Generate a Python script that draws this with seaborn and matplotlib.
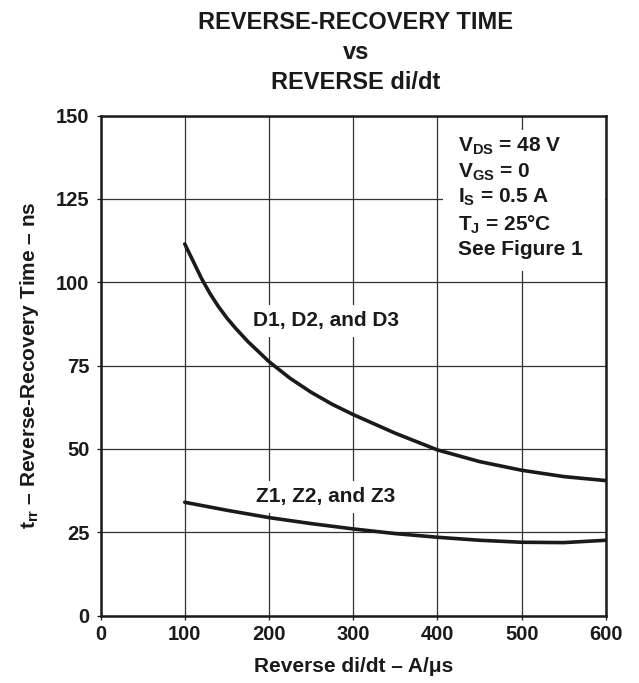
import matplotlib
matplotlib.use("Agg")
import matplotlib.pyplot as plt
from matplotlib.patches import Rectangle
import seaborn as sns
import pandas as pd

# ---- data ----
di_dt_D = [100, 110, 120, 130, 140, 150, 160, 175, 200, 225, 250, 275, 300,
           350, 400, 450, 500, 550, 600]
trr_D = [111.5, 106.3, 101.1, 96.6, 92.7, 89.3, 86.3, 82.2, 76.2, 71.2, 67.0, 63.4, 60.3,
         54.7, 49.7, 46.2, 43.6, 41.7, 40.5]
di_dt_Z = [100, 150, 200, 250, 300, 350, 400, 450, 500, 550, 600]
trr_Z = [34.0, 31.6, 29.4, 27.6, 26.0, 24.6, 23.5, 22.6, 22.0, 21.9, 22.6]
x_ticks = [0, 100, 200, 300, 400, 500, 600]
y_ticks = [0, 25, 50, 75, 100, 125, 150]
label_D = "D1, D2, and D3"
label_Z = "Z1, Z2, and Z3"
conditions = [r"V$_{\mathbf{DS}}$ = 48 V", r"V$_{\mathbf{GS}}$ = 0",
              r"I$_{\mathbf{S}}$ = 0.5 A", r"T$_{\mathbf{J}}$ = 25°C", "See Figure 1"]

sns.set_theme(style="white")
plt.rcParams['font.family'] = ['Liberation Sans', 'DejaVu Sans']
plt.rcParams['font.weight'] = 'bold'
plt.rcParams['mathtext.fontset'] = 'custom'
plt.rcParams['mathtext.rm'] = 'Liberation Sans:bold'
plt.rcParams['mathtext.bf'] = 'Liberation Sans:bold'
plt.rcParams['mathtext.it'] = 'Liberation Sans:bold'
plt.rcParams['mathtext.default'] = 'bf'

INK = "#1a1a1a"

df = pd.DataFrame({
    "x": di_dt_D + di_dt_Z,
    "y": trr_D + trr_Z,
    "series": [label_D] * len(di_dt_D) + [label_Z] * len(di_dt_Z),
})

fig = plt.figure(figsize=(6.39, 6.83), dpi=100)
ax = fig.add_axes([0.1573, 0.0987, 0.791, 0.732])

sns.lineplot(data=df, x="x", y="y", hue="series", palette=[INK, INK],
             linewidth=2.6, legend=False, ax=ax, zorder=4)

ax.set_xlim(0, 600)
ax.set_ylim(0, 150)
ax.set_xticks(x_ticks)
ax.set_yticks(y_ticks)
ax.grid(True, color="#333333", linewidth=0.9)
ax.set_axisbelow(True)
for s in ax.spines.values():
    s.set_linewidth(1.8)
    s.set_color(INK)
ax.tick_params(axis="both", which="both", labelsize=14.5, colors=INK,
               length=3, width=0.9, direction="out", bottom=True, left=True)
for lab in ax.get_xticklabels() + ax.get_yticklabels():
    lab.set_fontweight("bold")
ax.tick_params(axis="x", pad=4)
ax.tick_params(axis="y", pad=5)

ax.set_xlabel("Reverse di/dt – A/μs", fontsize=15, fontweight="bold", labelpad=9, color=INK)
ax.set_ylabel(r"t$_{\mathbf{rr}}$ – Reverse-Recovery Time – ns", fontsize=15,
              fontweight="bold", labelpad=11, color=INK)

fig.suptitle("REVERSE-RECOVERY TIME\nvs\nREVERSE di/dt", x=0.557, y=0.984,
             fontsize=17, fontweight="bold", linespacing=1.4, color=INK)

ax.text(267.7, 88.4, label_D, ha="center", va="center", fontsize=15, fontweight="bold",
        color=INK, zorder=3, bbox=dict(facecolor="white", edgecolor="none", pad=5))
ax.text(267, 35.6, label_Z, ha="center", va="center", fontsize=15, fontweight="bold",
        color=INK, zorder=3, bbox=dict(facecolor="white", edgecolor="none", pad=5))

# white mask behind the conditions block
ax.add_patch(Rectangle((406.6, 103.5), 192.5, 42.3, facecolor="white",
                       edgecolor="none", zorder=2))
ax.text(424, 144.0, "\n".join(conditions), ha="left", va="top", fontsize=15,
        fontweight="bold", color=INK, linespacing=1.28, zorder=3)

fig.savefig("out.png", dpi=100)
